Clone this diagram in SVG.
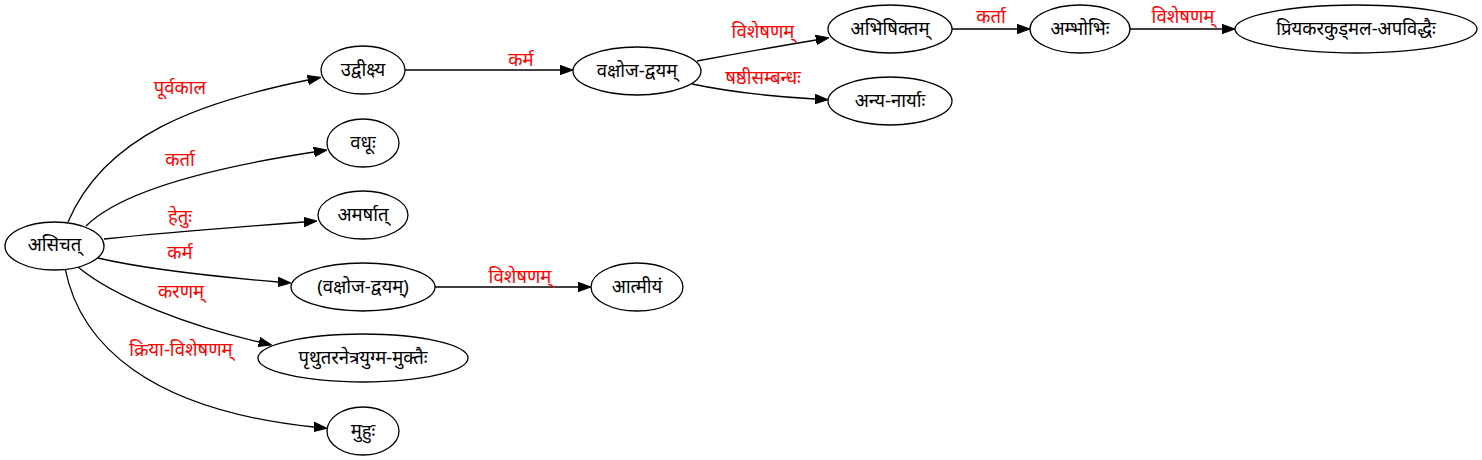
<svg xmlns="http://www.w3.org/2000/svg" width="1482" height="460" viewBox="0 0 1482 460">
<defs>
<marker id="ah" viewBox="0 0 13 10" refX="0" refY="5" markerWidth="13" markerHeight="10" markerUnits="userSpaceOnUse" orient="auto">
<path d="M0,0.3 L13,5 L0,9.7 z" fill="#000" stroke="#000" stroke-width="1"/>
</marker>
<style>
.node ellipse{fill:#fff;stroke:#000;stroke-width:1.3}
.node text{font-family:"Noto Sans","Liberation Sans",sans-serif;font-size:18.5px;fill:#000;text-anchor:middle}
.edges path{fill:none;stroke:#000;stroke-width:1.3;marker-end:url(#ah)}
.edges text{font-family:"Noto Sans","Liberation Sans",sans-serif;font-size:18.5px;fill:#f00;text-anchor:middle}
</style>
</defs>
<rect width="1482" height="460" fill="#fff"/>
<g id="edges" class="edges">
<path d="M68,222 C105,135 200,102 308,80"/>
<text x="180" y="94">पूर्वकाल</text>
<path d="M86,226 C120,192 210,168 314,152"/>
<text x="180" y="166">कर्ता</text>
<path d="M104,239 C160,233 250,226 304,222"/>
<text x="180" y="223">हेतुः</text>
<path d="M98,258 C140,268 220,277 278,282"/>
<text x="180" y="259">कर्म</text>
<path d="M78,267 C115,298 190,326 259,342"/>
<text x="181" y="298">करणम्</text>
<path d="M65,268 C80,345 150,410 314,427"/>
<text x="181" y="356">क्रिया-विशेषणम्</text>
<path d="M405,70 L560,70"/>
<text x="521" y="66">कर्म</text>
<path d="M435,287 L578,287"/>
<text x="520" y="283">विशेषणम्</text>
<path d="M697,61 C740,53 780,46 816,40"/>
<text x="763" y="38">विशेषणम्</text>
<path d="M692,84 C730,92 780,97 815,99"/>
<text x="763" y="84">षष्ठीसम्बन्धः</text>
<path d="M952,29 L1017,29"/>
<text x="991" y="23">कर्ता</text>
<path d="M1130,29 L1222,29"/>
<text x="1183" y="23">विशेषणम्</text>
</g>
<g id="n_asicat" class="node"><ellipse cx="54.5" cy="246" rx="49.5" ry="24"/><text x="54.5" y="251">असिचत्</text></g>
<g id="n_udviksya" class="node"><ellipse cx="363" cy="70" rx="42" ry="24"/><text x="363" y="76">उद्वीक्ष्य</text></g>
<g id="n_vadhuh" class="node"><ellipse cx="363" cy="143" rx="36" ry="24"/><text x="363" y="149">वधूः</text></g>
<g id="n_amarsat" class="node"><ellipse cx="363" cy="215" rx="45" ry="24"/><text x="363" y="221">अमर्षात्</text></g>
<g id="n_vaksoja2" class="node"><ellipse cx="363" cy="287" rx="72" ry="24"/><text x="363" y="293">(वक्षोज-द्वयम्)</text></g>
<g id="n_prthutara" class="node"><ellipse cx="363" cy="358" rx="105" ry="24"/><text x="363" y="364">पृथुतरनेत्रयुग्म-मुक्तैः</text></g>
<g id="n_muhuh" class="node"><ellipse cx="363" cy="431" rx="36" ry="24"/><text x="363" y="437">मुहुः</text></g>
<g id="n_vaksoja" class="node"><ellipse cx="637" cy="71" rx="64" ry="24"/><text x="637" y="77">वक्षोज-द्वयम्</text></g>
<g id="n_atmiyam" class="node"><ellipse cx="637" cy="287" rx="46" ry="24"/><text x="637" y="293">आत्मीयं</text></g>
<g id="n_abhisiktam" class="node"><ellipse cx="890" cy="29" rx="62" ry="24"/><text x="890" y="35">अभिषिक्तम्</text></g>
<g id="n_anyanaryah" class="node"><ellipse cx="890" cy="101" rx="62" ry="24"/><text x="890" y="107">अन्य-नार्याः</text></g>
<g id="n_ambhobhih" class="node"><ellipse cx="1080" cy="29" rx="50" ry="24"/><text x="1080" y="35">अम्भोभिः</text></g>
<g id="n_priyakara" class="node"><ellipse cx="1356" cy="29" rx="121" ry="24"/><text x="1356" y="35">प्रियकरकुड्मल-अपविद्धैः</text></g>
</svg>
